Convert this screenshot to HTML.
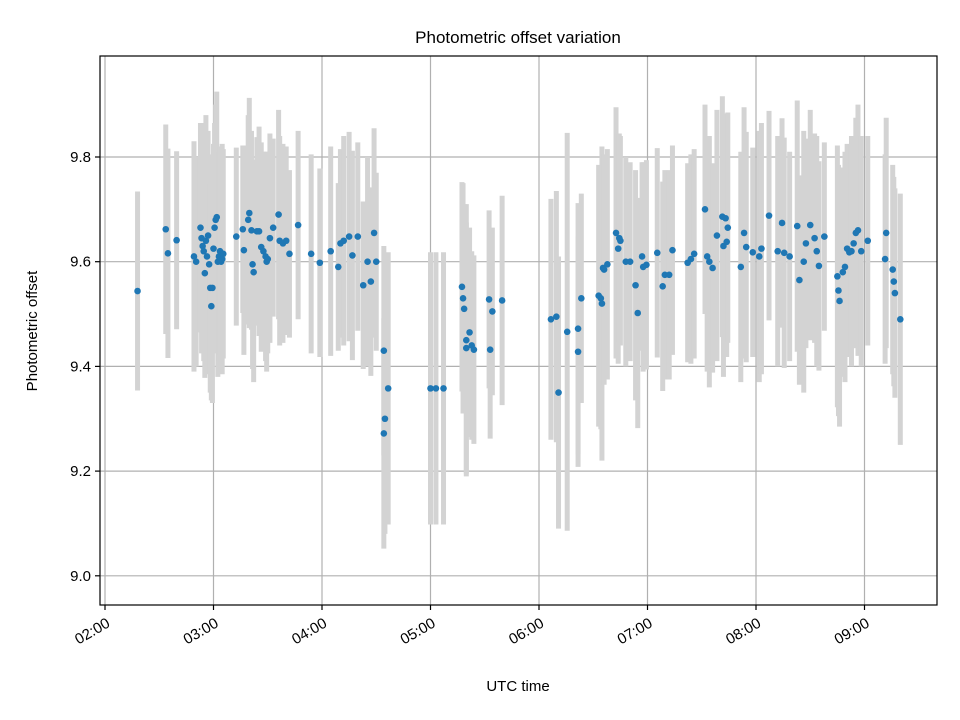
<!DOCTYPE html>
<html><head><meta charset="utf-8"><style>
body{margin:0;background:#fff;}
svg{display:block;font-family:"Liberation Sans","DejaVu Sans",sans-serif;}
</style></head><body>
<svg id="chart" width="960" height="720" viewBox="0 0 960 720" xmlns="http://www.w3.org/2000/svg">
<rect width="960" height="720" fill="#fff"/>
<text x="518" y="43" text-anchor="middle" font-size="17">Photometric offset variation</text>
<g id="grid"></g>
<g id="bars"></g>
<g id="pts"></g>
<rect x="100" y="56" width="837" height="549" fill="none" stroke="#000" stroke-width="1.2"/>
<g id="ticks"></g>
<text x="518" y="691" text-anchor="middle" font-size="15">UTC time</text>
<text transform="translate(37,331) rotate(-90)" text-anchor="middle" font-size="15">Photometric offset</text>
</svg>
<script>
const times=[2.30,2.56,2.58,2.66,2.82,2.84,2.88,2.89,2.90,2.91,2.92,2.93,2.94,2.95,2.96,2.97,2.98,2.99,3.00,3.01,3.02,3.03,3.04,3.05,3.06,3.07,3.08,3.09,3.21,3.27,3.28,3.32,3.33,3.35,3.36,3.37,3.40,3.42,3.44,3.46,3.48,3.49,3.50,3.52,3.55,3.60,3.61,3.64,3.67,3.70,3.78,3.90,3.98,4.08,4.15,4.17,4.20,4.25,4.28,4.33,4.38,4.42,4.45,4.48,4.50,4.57,4.58,4.57,4.61,5.00,5.05,5.12,5.29,5.30,5.31,5.33,5.33,5.36,5.38,5.40,5.54,5.55,5.57,5.66,6.11,6.16,6.18,6.26,6.36,6.36,6.39,6.55,6.57,6.58,6.59,6.60,6.63,6.71,6.73,6.74,6.75,6.80,6.84,6.89,6.91,6.95,6.96,6.99,7.09,7.14,7.16,7.20,7.23,7.37,7.40,7.43,7.53,7.55,7.57,7.60,7.64,7.69,7.70,7.72,7.73,7.74,7.86,7.89,7.91,7.97,8.03,8.05,8.12,8.20,8.24,8.26,8.31,8.38,8.40,8.44,8.46,8.50,8.54,8.56,8.58,8.63,8.75,8.76,8.77,8.80,8.82,8.84,8.86,8.88,8.90,8.92,8.94,8.97,9.03,9.19,9.20,9.26,9.27,9.28,9.33];
const offsets=[9.544,9.662,9.616,9.641,9.61,9.60,9.665,9.645,9.63,9.62,9.578,9.64,9.61,9.65,9.595,9.55,9.515,9.55,9.625,9.665,9.68,9.685,9.60,9.61,9.62,9.60,9.605,9.615,9.648,9.662,9.622,9.68,9.693,9.66,9.595,9.58,9.658,9.658,9.628,9.62,9.61,9.60,9.605,9.645,9.665,9.69,9.64,9.635,9.64,9.615,9.67,9.615,9.598,9.62,9.59,9.635,9.64,9.648,9.612,9.648,9.555,9.60,9.562,9.655,9.60,9.43,9.30,9.272,9.358,9.358,9.358,9.358,9.552,9.53,9.51,9.45,9.435,9.465,9.44,9.432,9.528,9.432,9.505,9.526,9.49,9.495,9.35,9.466,9.472,9.428,9.53,9.535,9.53,9.52,9.588,9.585,9.595,9.655,9.625,9.645,9.64,9.60,9.60,9.555,9.502,9.61,9.59,9.594,9.617,9.553,9.575,9.575,9.622,9.598,9.605,9.615,9.70,9.61,9.60,9.588,9.65,9.686,9.63,9.683,9.638,9.665,9.59,9.655,9.628,9.618,9.61,9.625,9.688,9.62,9.674,9.617,9.61,9.668,9.565,9.60,9.635,9.67,9.645,9.62,9.592,9.648,9.572,9.545,9.525,9.58,9.59,9.625,9.618,9.62,9.635,9.655,9.66,9.62,9.64,9.605,9.655,9.585,9.562,9.54,9.49];
const errors=[0.19,0.2,0.2,0.17,0.22,0.2,0.2,0.22,0.18,0.21,0.2,0.24,0.22,0.2,0.21,0.2,0.18,0.22,0.2,0.2,0.22,0.24,0.22,0.2,0.2,0.18,0.22,0.2,0.17,0.16,0.2,0.2,0.22,0.19,0.2,0.21,0.18,0.2,0.2,0.19,0.2,0.21,0.18,0.2,0.17,0.2,0.2,0.19,0.18,0.16,0.18,0.19,0.18,0.2,0.16,0.18,0.2,0.2,0.2,0.18,0.16,0.2,0.18,0.2,0.17,0.2,0.22,0.22,0.26,0.26,0.26,0.26,0.2,0.22,0.2,0.26,0.24,0.2,0.18,0.18,0.17,0.17,0.16,0.2,0.23,0.24,0.26,0.38,0.24,0.22,0.2,0.25,0.25,0.3,0.2,0.22,0.22,0.24,0.22,0.2,0.2,0.2,0.19,0.22,0.22,0.18,0.2,0.2,0.2,0.2,0.2,0.2,0.2,0.19,0.2,0.2,0.2,0.22,0.24,0.2,0.24,0.23,0.25,0.2,0.22,0.22,0.22,0.24,0.22,0.2,0.24,0.24,0.2,0.22,0.2,0.22,0.2,0.24,0.2,0.25,0.2,0.22,0.2,0.22,0.2,0.18,0.25,0.24,0.24,0.2,0.22,0.2,0.2,0.22,0.2,0.22,0.24,0.22,0.2,0.2,0.22,0.2,0.2,0.2,0.24];
const yTicks=[9.0,9.2,9.4,9.6,9.8];
const xTicks=[2,3,4,5,6,7,8,9];
const xTickLabels=["02:00","03:00","04:00","05:00","06:00","07:00","08:00","09:00"];
const X=t=>105+(t-2)*108.5;
const Y=v=>157-(v-9.8)*523.5;
const NS="http://www.w3.org/2000/svg";
function mk(tag,attrs,parent){const e=document.createElementNS(NS,tag);for(const k in attrs)e.setAttribute(k,attrs[k]);parent.appendChild(e);return e;}
const grid=document.getElementById('grid'),ticks=document.getElementById('ticks');
yTicks.forEach(v=>{
 const g=mk('line',{x1:100,x2:937,y1:Y(v),y2:Y(v),stroke:'#b0b0b0','stroke-width':1.2},grid);
 
 
 mk('line',{x1:95,x2:100,y1:Y(v),y2:Y(v),stroke:'#000','stroke-width':1.2},ticks);
 const t=mk('text',{x:91,y:Y(v)+5,'text-anchor':'end','font-size':15},ticks);
 t.textContent=v.toFixed(1);
 
 
});
xTicks.forEach((h,i)=>{
 const x=X(h);
 const g=mk('line',{x1:x,x2:x,y1:56,y2:605,stroke:'#b0b0b0','stroke-width':1.2},grid);
 
 
 mk('line',{x1:x,x2:x,y1:605,y2:610,stroke:'#000','stroke-width':1.2},ticks);
 const t=mk('text',{transform:`translate(${x+6},${626}) rotate(-30)`,'text-anchor':'end','font-size':15},ticks);
 t.textContent=xTickLabels[i];
 
 
});
const bars=document.getElementById('bars'),pts=document.getElementById('pts');
times.forEach((t,i)=>{
 const x=X(t);
 const b=mk('line',{x1:x,x2:x,y1:Y(offsets[i]+errors[i]),y2:Y(offsets[i]-errors[i]),stroke:'#d3d3d3','stroke-width':5},bars);
 
 
 const c=mk('circle',{cx:x,cy:Y(offsets[i]),r:3.3,fill:'#1f77b4'},pts);
 
 
});
</script>
</body></html>
